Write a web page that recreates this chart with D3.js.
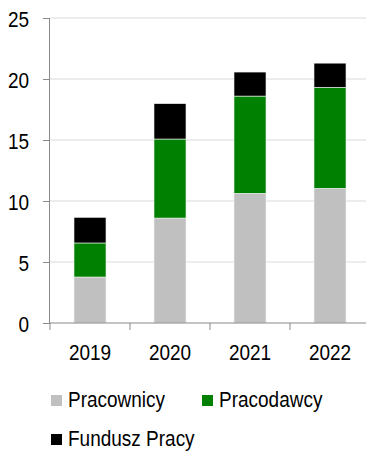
<!DOCTYPE html>
<html>
<head>
<meta charset="utf-8">
<script src="https://cdn.jsdelivr.net/npm/d3@7"></script>
<style>
  body { margin: 0; background: #fff; }
  svg { display: block; font-family: "Liberation Sans", Arial, sans-serif; }
</style>
</head>
<body>
<svg id="chart" width="366" height="452"></svg>
<script>
// data
var years = ["2019", "2020", "2021", "2022"];
var pracownicy = [3.77, 8.6, 10.63, 11.04];
var pracodawcy = [2.79, 6.48, 7.97, 8.28];
var fundusz = [2.1, 2.9, 1.97, 1.98];
var seriesNames = ["Pracownicy", "Pracodawcy", "Fundusz Pracy"];
var colors = ["#c0c0c0", "#008000", "#000000"];
var yTicks = [0, 5, 10, 15, 20, 25];

var STRETCH = 1.2; // text in the original is drawn a bit taller than wide

var svg = d3.select("#chart");

var x = d3.scaleBand().domain(years).range([50, 370]);
var y = d3.scaleLinear().domain([0, 25]).range([323, 18]);

// build rows for the stack
var rows = years.map(function (yr, i) {
  return { year: yr, Pracownicy: pracownicy[i], Pracodawcy: pracodawcy[i], "Fundusz Pracy": fundusz[i] };
});
var stacked = d3.stack().keys(seriesNames)(rows);

// gridlines
svg.append("g").selectAll("line.grid").data(yTicks.slice(1))
  .enter().append("line")
  .attr("class", "grid")
  .attr("x1", 50).attr("x2", 366)
  .attr("y1", d => y(d)).attr("y2", d => y(d))
  .style("stroke", "#d9d9d9").style("stroke-width", 1);

// bars
var bw = x.bandwidth() * 0.4;
svg.append("g").selectAll("g.series").data(stacked)
  .enter().append("g")
  .attr("class", "series")
  .style("fill", (d, i) => colors[i])
  .selectAll("rect").data(d => d)
  .enter().append("rect")
  .attr("x", d => x(d.data.year) + (x.bandwidth() - bw) / 2)
  .attr("width", bw)
  .attr("y", d => y(d[1]))
  .attr("height", d => y(d[0]) - y(d[1]))
  .style("stroke", "#f2f2f2").style("stroke-width", 0.6);

// y axis
var ya = svg.append("g")
  .attr("transform", "translate(50,0)")
  .call(d3.axisLeft(y).tickValues(yTicks).tickSize(7));
ya.select(".domain").attr("d", "M-0.5," + y(25) + "V" + y(0)).style("stroke", "#898989");
ya.selectAll(".tick line").style("stroke", "#898989");
ya.selectAll(".tick text")
  .attr("x", null).attr("y", null).attr("dy", null)
  .attr("transform", "translate(-21,8) scale(1," + STRETCH + ")")
  .style("font-size", "19px").style("fill", "#000")
  .style("font-family", "Liberation Sans, Arial, sans-serif");

// x axis
var xa = svg.append("g")
  .attr("transform", "translate(0,323)")
  .call(d3.axisBottom(x).tickSize(0));
xa.select(".domain").attr("d", "M50,0H366").style("stroke", "#898989");
xa.selectAll(".tick text")
  .attr("y", null).attr("dy", null)
  .attr("transform", "translate(0,37) scale(1," + STRETCH + ")")
  .style("font-size", "19px").style("fill", "#000")
  .style("font-family", "Liberation Sans, Arial, sans-serif");
// category separators
svg.append("g").selectAll("line.sep").data(years)
  .enter().append("line")
  .attr("x1", d => x(d)).attr("x2", d => x(d))
  .attr("y1", 323).attr("y2", 330)
  .style("stroke", "#898989");

// legend
var legendPos = [[51, 395], [202, 395], [51, 434]];
var lg = svg.append("g").selectAll("g.leg").data(seriesNames)
  .enter().append("g")
  .attr("transform", (d, i) => "translate(" + legendPos[i][0] + "," + legendPos[i][1] + ")");
lg.append("rect").attr("width", 11).attr("height", 11).style("fill", (d, i) => colors[i]);
lg.append("text")
  .attr("transform", "translate(17,12) scale(1," + STRETCH + ")")
  .style("font-size", "19px").style("fill", "#000")
  .text(d => d);
</script>
</body>
</html>
